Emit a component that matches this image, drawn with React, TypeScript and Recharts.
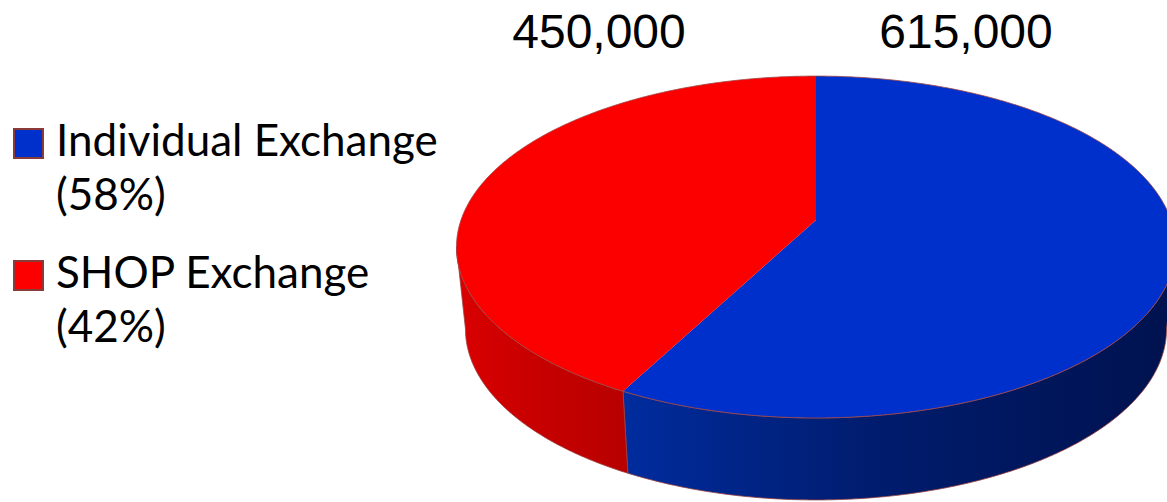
import React from 'react';
import { PieChart, Pie, Legend } from 'recharts';

// enrollment split between the two exchanges
const categories = ['Individual Exchange', 'SHOP Exchange'];
const enrollment = [615000, 450000];
const sliceColors = ['#0030CC', '#FC0000'];

const total = enrollment.reduce((a, b) => a + b, 0);
const data = categories.map((name, i) => ({ name, value: enrollment[i], fill: sliceColors[i] }));

// 3d look: tilted disc seen with a bit of perspective
const TILT = 0.4695;
const PERSP = 0.158;
const DEPTH = 82;
const SHRINK = 0.975; // bottom rim is a little narrower than the top one
const RAD = Math.PI / 180;
const SIDE = Math.asin(PERSP) / RAD; // where the rim silhouette turns
const LEGEND_W = 460; // the vertical legend on the left pushes the plot area right by its width
const wallShades: string[][] = [
  ['#002C9E', '#001C6E', '#00124E'],
  ['#DA0000', '#C80000', '#B80000'],
];

function Slice3D(props: any) {
  const { cx, cy, outerRadius, startAngle, endAngle, fill, index } = props;
  const rx = outerRadius;
  const ry = outerRadius * TILT;
  // projected rim point; bottom = the lower rim of the side wall
  const pt = (a: number, bottom = false) => {
    const u = Math.cos(a * RAD);
    const v = Math.sin(a * RAD);
    const w = 1 + PERSP * v;
    const x = cx + (rx * u) / w;
    const y = cy - (ry * v) / w;
    return bottom ? { x: cx + (x - cx) * SHRINK, y: y + DEPTH } : { x, y };
  };
  const s = (p: { x: number; y: number }) => `${p.x.toFixed(2)},${p.y.toFixed(2)}`;
  const rim = (a: number, b: number, bottom = false) => {
    const n = Math.max(2, Math.ceil(Math.abs(b - a) * 2));
    const pts: string[] = [];
    for (let i = 0; i <= n; i++) pts.push(s(pt(a + ((b - a) * i) / n, bottom)));
    return pts;
  };

  // front wall = part of the slice on the near side of the silhouette
  const lo = Math.min(startAngle, endAngle);
  const hi = Math.max(startAngle, endAngle);
  const walls: { a: number; b: number }[] = [];
  for (let k = -2; k <= 2; k++) {
    const a = Math.max(lo, -180 + SIDE + 360 * k);
    const b = Math.min(hi, -SIDE + 360 * k);
    if (b > a) walls.push({ a, b });
  }

  const edge = rim(startAngle, endAngle);
  const top = `M${cx},${cy} L${edge.join(' L')} Z`;
  const shades = wallShades[index % wallShades.length];

  return (
    <g>
      <defs>
        {walls.map((w, i) => (
          <linearGradient
            key={i}
            id={`wall-${index}-${i}`}
            gradientUnits="userSpaceOnUse"
            x1={pt(w.a).x}
            x2={pt(w.b).x}
            y1={0}
            y2={0}
          >
            <stop offset="0%" stopColor={shades[0]} />
            <stop offset="45%" stopColor={shades[1]} />
            <stop offset="100%" stopColor={shades[2]} />
          </linearGradient>
        ))}
      </defs>
      {walls.map((w, i) => {
        const upper = rim(w.a, w.b);
        const lower = rim(w.a, w.b, true).reverse();
        const d = `M${upper.join(' L')} L${lower.join(' L')} Z`;
        return <path key={i} d={d} fill={`url(#wall-${index}-${i})`} stroke="#9A4040" strokeWidth={0.8} />;
      })}
      <path d={top} fill={fill} stroke="none" />
      <path d={`M${edge.join(' L')}`} fill="none" stroke="#A04848" strokeWidth={0.8} />
    </g>
  );
}

function renderLabel(props: any) {
  const { cx, cy, midAngle, outerRadius, value } = props;
  const topY = cy - (outerRadius * TILT) / (1 + PERSP);
  const right = Math.cos(midAngle * RAD) >= 0;
  return (
    <text
      x={cx + (right ? 150 : -217)}
      y={topY - 28}
      textAnchor="middle"
      fill="#000"
      fontFamily="'Liberation Sans', Arial, sans-serif"
      fontSize={48}
    >
      {Number(value).toLocaleString('en-US')}
    </text>
  );
}

function LegendBox(props: any) {
  const payload = props.payload || [];
  return (
    <div style={{ fontFamily: 'Lato, sans-serif', fontSize: 44, lineHeight: '54px', color: '#000' }}>
      {payload.map((entry: any, i: number) => {
        const v = enrollment[categories.indexOf(entry.value)];
        return (
          <div key={i} style={{ display: 'flex', alignItems: 'flex-start', marginBottom: 24 }}>
            <span
              style={{
                display: 'inline-block',
                width: 27,
                height: 27,
                marginTop: 16,
                marginRight: 12,
                background: entry.color,
                border: '2px solid #8B3A3A',
                flex: 'none',
              }}
            />
            <div>
              {entry.value}
              <br />({Math.round((v / total) * 100)}%)
            </div>
          </div>
        );
      })}
    </div>
  );
}

export default function App() {
  return (
    <div style={{ position: 'absolute', left: 0, top: 0, width: 1167, height: 502, background: '#fff', overflow: 'hidden' }}>
      <PieChart width={1167} height={502} margin={{ top: 0, right: 0, bottom: 0, left: 0 }}>
        <Legend
          layout="vertical"
          align="left"
          verticalAlign="top"
          content={<LegendBox />}
          wrapperStyle={{ top: 112, left: 13, width: LEGEND_W }}
        />
        <Pie
          data={data}
          dataKey="value"
          nameKey="name"
          cx={816 - LEGEND_W}
          cy={220}
          outerRadius={355}
          startAngle={90}
          endAngle={-270}
          stroke="none"
          shape={Slice3D}
          label={renderLabel}
          labelLine={false}
          isAnimationActive={false}
        />
      </PieChart>
    </div>
  );
}
